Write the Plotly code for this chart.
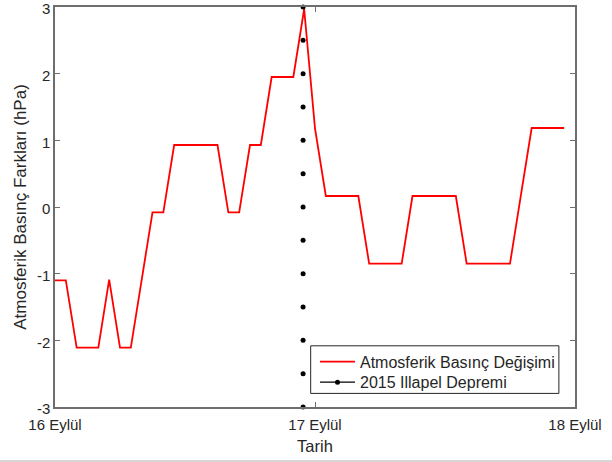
import plotly.graph_objects as go

# Hours since 16 Eylül 00:00
hours = list(range(0, 48))
pressure_diff = [
    -1.10, -1.10, -2.11, -2.11, -2.11, -1.09, -2.11, -2.11,
    -1.10, -0.08, -0.08, 0.93, 0.93, 0.93, 0.93, 0.93,
    -0.08, -0.08, 0.93, 0.93, 1.95, 1.95, 1.95, 2.97,
    1.18, 0.165, 0.165, 0.165, 0.165, -0.85, -0.85, -0.85,
    -0.85, 0.165, 0.165, 0.165, 0.165, 0.165, -0.85, -0.85,
    -0.85, -0.85, -0.85, 0.17, 1.185, 1.185, 1.185, 1.185,
]

quake_hour = 22.9
quake_levels = [-3, -2.5, -2, -1.5, -1, -0.5, 0, 0.5, 1, 1.5, 2, 2.5, 3]

tick_hours = [0, 24, 48]
tick_labels = ["16 Eylül", "17 Eylül", "18 Eylül"]
y_ticks = [-3, -2, -1, 0, 1, 2, 3]
y_tick_labels = ["-3", "-2", "-1", "0", "1", "2", "3"]

FONT = "Liberation Sans, Arial, sans-serif"
TXT = "#262626"
AX = "#6e6e6e"

fig = go.Figure()
fig.add_trace(go.Scatter(
    x=hours, y=pressure_diff, mode="lines",
    line=dict(color="#ff0000", width=1.8),
    name="Atmosferik Basınç Değişimi", legend="legend",
))
fig.add_trace(go.Scatter(
    x=[quake_hour] * len(quake_levels), y=quake_levels, mode="markers",
    marker=dict(color="black", size=5),
    showlegend=False, name="2015 Illapel Depremi", cliponaxis=False,
))
fig.add_trace(go.Scatter(
    x=[None], y=[None], mode="lines+markers",
    line=dict(color="black", width=1.3),
    marker=dict(color="black", size=5),
    name="2015 Illapel Depremi", legend="legend2",
))

legend_common = dict(
    x=0.5, xanchor="left", yanchor="middle",
    bgcolor="rgba(0,0,0,0)", borderwidth=0,
    font=dict(family=FONT, size=16, color=TXT),
    itemwidth=35,
)

fig.update_layout(
    width=612, height=462,
    margin=dict(l=55, r=37, t=7, b=55),
    paper_bgcolor="white", plot_bgcolor="white",
    font=dict(family=FONT, color=TXT, size=15),
    showlegend=True,
    legend=dict(y=0.11325, **legend_common),
    legend2=dict(y=0.06175, **legend_common),
    xaxis=dict(
        range=[0, 48], tickvals=tick_hours, ticktext=tick_labels,
        showline=True, linecolor=AX, linewidth=1.5, mirror="ticks",
        ticks="inside", ticklen=5, tickcolor=AX, tickwidth=1,
        showgrid=False, zeroline=False, automargin=False,
        tickfont=dict(size=15, color=TXT), ticklabelstandoff=3,
        ticklabeloverflow="allow",
        title=dict(text="Tarih", font=dict(size=16.5, color=TXT), standoff=9),
    ),
    yaxis=dict(
        range=[-3, 3], tickvals=y_ticks, ticktext=y_tick_labels,
        showline=True, linecolor=AX, linewidth=1.5, mirror="ticks",
        ticks="inside", ticklen=5, tickcolor=AX, tickwidth=1,
        showgrid=False, zeroline=False, automargin=False,
        tickfont=dict(size=15, color=TXT), ticklabelstandoff=0,
        ticklabelshift=2, ticklabeloverflow="allow",
        title=dict(text="Atmosferik Basınç Farkları (hPa)", font=dict(size=17, color=TXT), standoff=6),
    ),
    shapes=[
        dict(
            type="line", xref="paper", yref="paper",
            x0=-55 / 520, x1=557 / 520, y0=-54 / 400, y1=-54 / 400,
            line=dict(color="#c8c8c8", width=1.5),
        ),
        dict(
            type="rect", xref="paper", yref="paper", layer="below",
            x0=0.4917, x1=0.969, y0=0.034, y1=0.153,
            fillcolor="white", line=dict(color="#262626", width=1),
        ),
    ],
)

fig.write_html(
    "out.html",
    config={"displayModeBar": False},
    post_script="document.body.style.margin='0';",
)
